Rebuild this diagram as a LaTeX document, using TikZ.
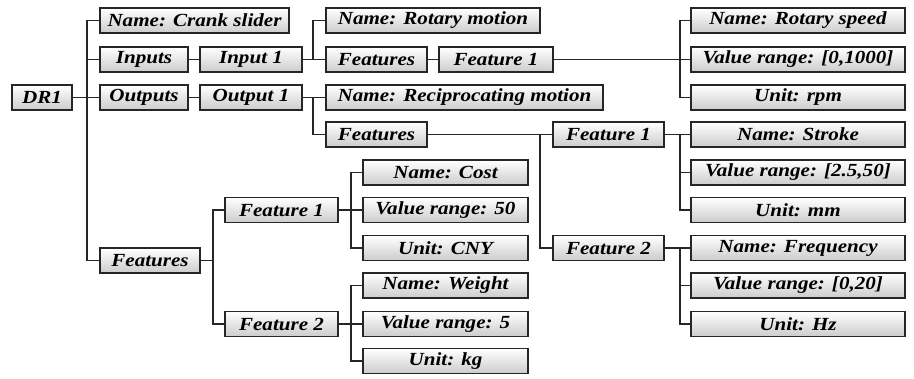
\documentclass[tikz,border=0pt]{standalone}
\usepackage{fontspec}
\setmainfont{Liberation Serif}
\usetikzlibrary{shadows}
\newcommand\wide[1]{\scalebox{1.14}[1]{#1}}
\begin{document}
\begin{tikzpicture}[x=1pt,y=-1pt,
  box/.style={draw=black!85, line width=1.3pt, top color=white, bottom color=black!20,
    drop shadow={shadow xshift=0.9pt, shadow yshift=-0.9pt, fill=black!45, opacity=0.7},
    minimum height=25pt, inner sep=0pt, anchor=center,
    font=\bfseries\itshape\fontsize{18.5}{18.5}\selectfont},
  conn/.style={draw=black!85, line width=1.2pt}]
\useasboundingbox (0,0) rectangle (914,378);

% level 0 and 1
\node[box, minimum width=60]  (dr1)     at (42,97.5)   {\wide{DR1}};
\node[box, minimum width=189] (crank)   at (194.5,20.5) {\wide{Name: Crank slider}};
\node[box, minimum width=88]  (inputs)  at (144,59.5)  {\wide{Inputs}};
\node[box, minimum width=88]  (outputs) at (144,97.5)  {\wide{Outputs}};
\node[box, minimum width=100] (featL)   at (150,260.5) {\wide{Features}};

% inputs branch
\node[box, minimum width=102] (input1)  at (251,59.5)  {\wide{Input 1}};
\node[box, minimum width=214] (rotmot)  at (433,20.5)  {\wide{Name: Rotary motion}};
\node[box, minimum width=101] (infeat)  at (376.5,59.5) {\wide{Features}};
\node[box, minimum width=114] (infeat1) at (496,59.5)  {\wide{Feature 1}};
\node[box, minimum width=214] (rspeed)  at (798,20.5)  {\wide{Name: Rotary speed}};
\node[box, minimum width=214] (rrange)  at (798,59.5)  {\wide{Value range: [0,1000]}};
\node[box, minimum width=214] (rrpm)    at (798,97.5)  {\wide{Unit: rpm}};

% outputs branch
\node[box, minimum width=102] (output1) at (251,97.5)  {\wide{Output 1}};
\node[box, minimum width=277] (recip)   at (464.5,97.5) {\wide{Name: Reciprocating motion}};
\node[box, minimum width=101] (outfeat) at (376.5,134.5) {\wide{Features}};
\node[box, minimum width=111] (of1)     at (608.5,134.5) {\wide{Feature 1}};
\node[box, minimum width=111] (of2)     at (608.5,248) {\wide{Feature 2}};
\node[box, minimum width=214] (stroke)  at (798,134.5) {\wide{Name: Stroke}};
\node[box, minimum width=214] (srange)  at (798,172.5) {\wide{Value range: [2.5,50]}};
\node[box, minimum width=214] (smm)     at (798,210)   {\wide{Unit: mm}};
\node[box, minimum width=214] (freq)    at (798,248)   {\wide{Name: Frequency}};
\node[box, minimum width=214] (frange)  at (798,285.5) {\wide{Value range: [0,20]}};
\node[box, minimum width=214] (fhz)     at (798,324)   {\wide{Unit: Hz}};

% design features branch
\node[box, minimum width=113] (lf1)     at (281.5,210) {\wide{Feature 1}};
\node[box, minimum width=113] (lf2)     at (281.5,324) {\wide{Feature 2}};
\node[box, minimum width=165] (cost)    at (445.5,172.5) {\wide{Name: Cost}};
\node[box, minimum width=165] (c50)     at (445.5,210) {\wide{Value range: 50}};
\node[box, minimum width=165] (cny)     at (445.5,248) {\wide{Unit: CNY}};
\node[box, minimum width=165] (weight)  at (445.5,285.5) {\wide{Name: Weight}};
\node[box, minimum width=165] (w5)      at (445.5,324) {\wide{Value range: 5}};
\node[box, minimum width=165] (kg)      at (445.5,361) {\wide{Unit: kg}};

% x positions of the vertical trunks
\coordinate (tA) at (87,0);
\coordinate (tB) at (313,0);
\coordinate (tC) at (680,0);
\coordinate (tD) at (540,0);
\coordinate (tE) at (213,0);
\coordinate (tF) at (351,0);

\newcommand\branch[3]{\draw[conn] (#1.east) -- (#1.east -| #2) |- (#3.west);}
\newcommand\link[2]{\draw[conn] (#1.east) -- (#2.west);}

\branch{dr1}{tA}{crank}
\branch{dr1}{tA}{inputs}
\branch{dr1}{tA}{outputs}
\branch{dr1}{tA}{featL}
\link{inputs}{input1}
\link{outputs}{output1}
\branch{input1}{tB}{rotmot}
\branch{input1}{tB}{infeat}
\link{infeat}{infeat1}
\branch{infeat1}{tC}{rspeed}
\branch{infeat1}{tC}{rrange}
\branch{infeat1}{tC}{rrpm}
\branch{output1}{tB}{recip}
\branch{output1}{tB}{outfeat}
\branch{outfeat}{tD}{of1}
\branch{outfeat}{tD}{of2}
\branch{of1}{tC}{stroke}
\branch{of1}{tC}{srange}
\branch{of1}{tC}{smm}
\branch{of2}{tC}{freq}
\branch{of2}{tC}{frange}
\branch{of2}{tC}{fhz}
\branch{featL}{tE}{lf1}
\branch{featL}{tE}{lf2}
\branch{lf1}{tF}{cost}
\branch{lf1}{tF}{c50}
\branch{lf1}{tF}{cny}
\branch{lf2}{tF}{weight}
\branch{lf2}{tF}{w5}
\branch{lf2}{tF}{kg}
\end{tikzpicture}
\end{document}
